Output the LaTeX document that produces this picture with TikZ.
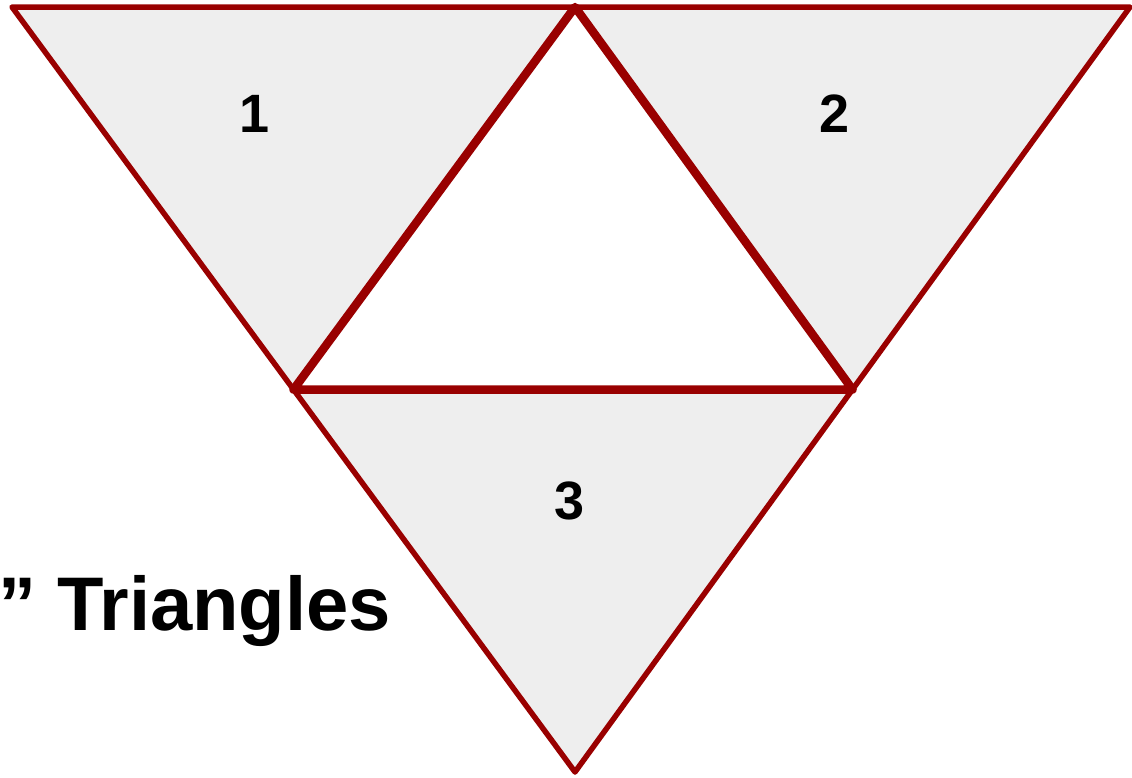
\documentclass[tikz,border=0pt]{standalone}
\usepackage{fontspec}
\setmainfont{Liberation Sans}
\definecolor{edgered}{HTML}{990000}
\definecolor{facegray}{HTML}{EEEEEE}
\begin{document}
\begin{tikzpicture}[x=1pt,y=-1pt, line join=round]
  \useasboundingbox (0,0) rectangle (1132,777);
  \coordinate (tl) at (12,7);
  \coordinate (tr) at (1130,7);
  \coordinate (bt) at (575,772);
  \coordinate (tm) at (575,7);
  \coordinate (lm) at (293.5,389.5);
  \coordinate (rm) at (852.5,389.5);
  % outer faces
  \foreach \a/\b/\c in {tl/tm/lm, tm/tr/rm, lm/rm/bt} {
    \draw[edgered, line width=5.5pt, fill=facegray] (\a) -- (\b) -- (\c) -- cycle;
  }
  % middle face
  \draw[edgered, line width=8.5pt, fill=white] (tm) -- (lm) -- (rm) -- cycle;
  \node[font=\fontsize{54}{54}\bfseries] (one) at (255,114) {1};
  \node[font=\fontsize{54}{54}\bfseries] (two) at (835,114) {2};
  \node[font=\fontsize{54}{54}\bfseries] (three) at (570,501) {3};
  \node[font=\fontsize{76}{76}\bfseries, anchor=base west, inner sep=0pt] (title) at (-2,630) {” Triangles};
\end{tikzpicture}
\end{document}
